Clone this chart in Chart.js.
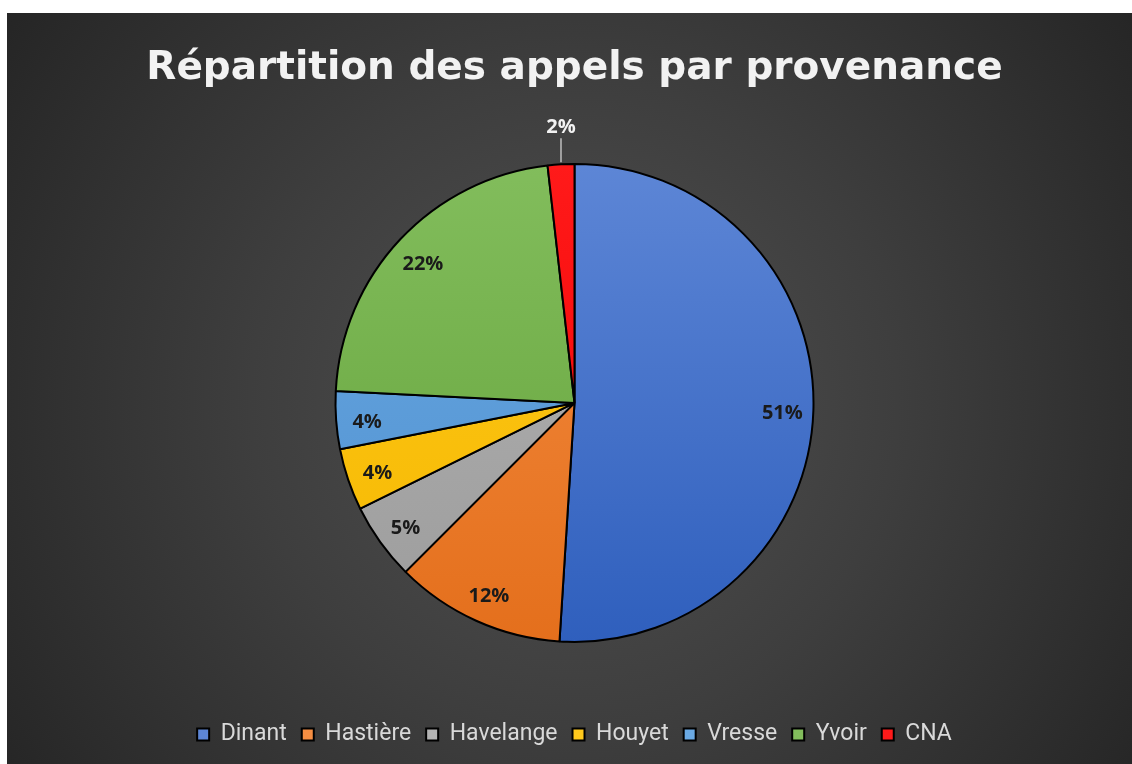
<!DOCTYPE html>
<html>
<head>
<meta charset="utf-8">
<script src="https://cdn.jsdelivr.net/npm/chart.js@4"></script>
<style>
  body { margin: 0; background: #ffffff; }
  #wrap { position: absolute; left: 7px; top: 13px; width: 1125px; height: 751px; }
</style>
</head>
<body>
<div id="wrap"><canvas id="chart"></canvas></div>
<script>
// données
const categories = ['Dinant', 'Hastière', 'Havelange', 'Houyet', 'Vresse', 'Yvoir', 'CNA'];
const appels = [510, 115, 52, 42, 39, 224, 18];
const lightColors = ['#5d86d6', '#f48d42', '#b3b3b3', '#ffc91c', '#6aa9e3', '#82bd5c', '#ff1a1a'];
const darkColors = ['#2f5fbd', '#e46f1c', '#9c9c9c', '#f5b800', '#4f90cf', '#64a23a', '#f00000'];

const total = appels.reduce((a, b) => a + b, 0);

const bgPlugin = {
    id: 'fond',
    beforeDraw(chart) {
        const { ctx, width, height } = chart;
        const g = ctx.createRadialGradient(567, 389, 0, 567, 389, 720);
        g.addColorStop(0, '#515151');
        g.addColorStop(0.45, '#3e3e3e');
        g.addColorStop(1, '#232323');
        ctx.save();
        ctx.fillStyle = g;
        ctx.fillRect(0, 0, width, height);
        ctx.restore();
    }
};

const labelPlugin = {
    id: 'etiquettes',
    afterDatasetsDraw(chart) {
        const ctx = chart.ctx;
        const meta = chart.getDatasetMeta(0);
        ctx.save();
        ctx.font = 'bold 20px "Open Sans"';
        ctx.textAlign = 'center';
        ctx.textBaseline = 'middle';
        meta.data.forEach((arc, i) => {
            const p = arc.getProps(['x', 'y', 'startAngle', 'endAngle', 'outerRadius'], true);
            const mid = (p.startAngle + p.endAngle) / 2;
            const share = appels[i] / total;
            const txt = Math.round(share * 100) + '%';
            if (share < 0.03) {
                const ex = p.x + Math.cos(mid) * p.outerRadius;
                const ey = p.y + Math.sin(mid) * p.outerRadius;
                ctx.strokeStyle = '#bfbfbf';
                ctx.lineWidth = 1.5;
                ctx.beginPath();
                ctx.moveTo(ex, ey - 2);
                ctx.lineTo(ex, ey - 26);
                ctx.stroke();
                ctx.fillStyle = '#f2f2f2';
                ctx.fillText(txt, ex, ey - 37);
            } else {
                const r = p.outerRadius * 0.87;
                ctx.fillStyle = '#1a1a1a';
                ctx.fillText(txt, p.x + Math.cos(mid) * r, p.y + Math.sin(mid) * r + 4);
            }
        });
        ctx.restore();
    }
};

new Chart(document.getElementById('chart'), {
    type: 'pie',
    data: {
        labels: categories,
        datasets: [{
            data: appels,
            backgroundColor: (c) => {
                const area = c.chart.chartArea;
                const i = c.dataIndex;
                if (!area) return lightColors[i];
                const g = c.chart.ctx.createLinearGradient(0, 150, 0, 630);
                g.addColorStop(0, lightColors[i]);
                g.addColorStop(1, darkColors[i]);
                return g;
            },
            borderColor: '#000000',
            borderWidth: 2
        }]
    },
    options: {
        responsive: true,
        maintainAspectRatio: false,
        animation: false,
        events: [],
        radius: 239,
        layout: { padding: { left: 10, bottom: 8 } },
        plugins: {
            title: {
                display: true,
                text: 'Répartition des appels par provenance',
                color: '#f2f2f2',
                font: { family: '"DejaVu Sans"', size: 39, weight: 'bold' },
                padding: { top: 32, bottom: 6 }
            },
            legend: {
                position: 'bottom',
                labels: {
                    color: '#d9d9d9',
                    font: { family: 'Roboto', size: 23 },
                    boxWidth: 12,
                    boxHeight: 12,
                    padding: 15,
                    generateLabels: (chart) => categories.map((name, i) => ({
                        text: name,
                        fillStyle: lightColors[i],
                        strokeStyle: '#000000',
                        lineWidth: 2,
                        fontColor: '#d9d9d9',
                        index: i
                    }))
                }
            },
            tooltip: { enabled: false }
        }
    },
    plugins: [bgPlugin, labelPlugin]
});
</script>
</body>
</html>
